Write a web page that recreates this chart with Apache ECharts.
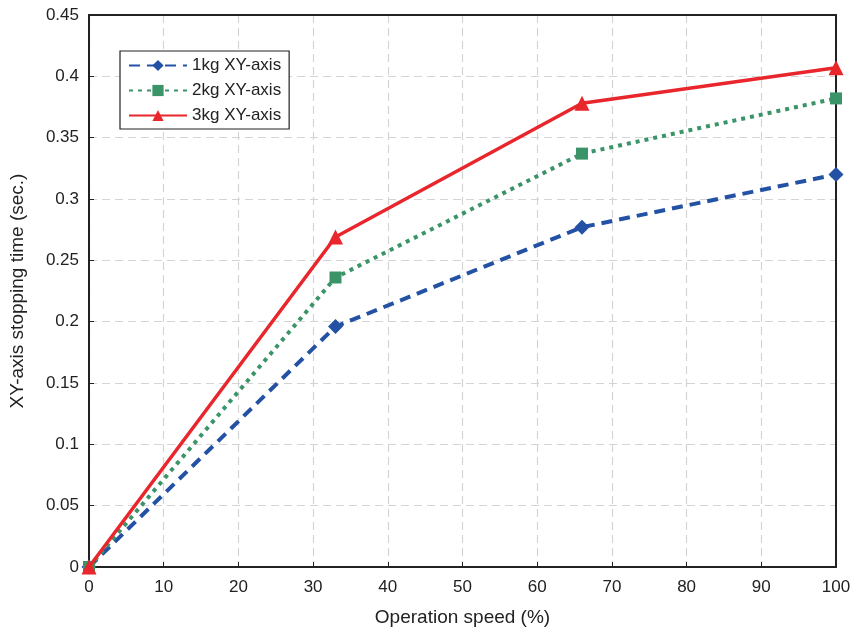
<!DOCTYPE html>
<html><head><meta charset="utf-8">
<script src="https://cdn.jsdelivr.net/npm/echarts@6/dist/echarts.min.js"></script>
<style>html,body{margin:0;padding:0;background:#fff}#c{width:862px;height:644px}</style>
</head><body><div id="c"></div>
<script>
const speeds = [0, 33, 66, 100];
const kg1 = [0, 0.196, 0.277, 0.320];
const kg2 = [0, 0.236, 0.337, 0.382];
const kg3 = [0, 0.269, 0.378, 0.407];
const names = ['1kg XY-axis', '2kg XY-axis', '3kg XY-axis'];

const pts = a => speeds.map((s, i) => [s, a[i]]);
const font = 'Liberation Sans, Arial, sans-serif';
const frame = { show: true, onZero: false, lineStyle: { color: '#222', width: 2 } };
const chart = echarts.init(document.getElementById('c'));
chart.setOption({
  animation: false,
  grid: { left: 88, right: 26, top: 15, bottom: 77 },
  legend: {
    left: 120, top: 51, orient: 'vertical', itemWidth: 58, itemHeight: 14, itemGap: 8,
    backgroundColor: '#fff', borderColor: '#222', borderWidth: 1.2, padding: [6, 8, 5, 8],
    textStyle: { fontFamily: font, fontSize: 17, color: '#222' },
    data: names
  },
  xAxis: [{
    type: 'value', min: 0, max: 100, interval: 10,
    name: 'Operation speed (%)', nameLocation: 'middle', nameGap: 41,
    nameTextStyle: { fontFamily: font, fontSize: 19, color: '#222' },
    axisLine: frame,
    axisTick: { inside: true, length: 5, lineStyle: { color: '#222' } },
    axisLabel: { fontFamily: font, fontSize: 17, color: '#222', margin: 12 },
    splitLine: { lineStyle: { color: '#d4d4d4', type: [8, 5], width: 1.2 } }
  }, {
    type: 'value', min: 0, max: 100, interval: 10, position: 'top',
    axisLine: frame, axisTick: { show: false }, axisLabel: { show: false }, splitLine: { show: false }
  }],
  yAxis: [{
    type: 'value', min: 0, max: 0.45, interval: 0.05,
    name: 'XY-axis stopping time (sec.)', nameLocation: 'middle', nameGap: 62,
    nameTextStyle: { fontFamily: font, fontSize: 19, color: '#222' },
    axisLine: frame,
    axisTick: { show: true, inside: true, length: 5, lineStyle: { color: '#222' } },
    axisLabel: { fontFamily: font, fontSize: 17, color: '#222', margin: 10, formatter: v => String(+v.toFixed(2)) },
    splitLine: { lineStyle: { color: '#d4d4d4', type: [8, 5], width: 1.2 } }
  }, {
    type: 'value', min: 0, max: 0.45, interval: 0.05, position: 'right',
    axisLine: frame, axisTick: { show: false }, axisLabel: { show: false }, splitLine: { show: false }
  }],
  series: [
    { name: names[0], type: 'line', data: pts(kg1), symbol: 'diamond', symbolSize: 15,
      lineStyle: { color: '#2352a5', width: 4, type: [11, 7] }, itemStyle: { color: '#2352a5' }, z: 3 },
    { name: names[1], type: 'line', data: pts(kg2), symbol: 'rect', symbolSize: 12,
      lineStyle: { color: '#3a9468', width: 4, type: [4, 5] }, itemStyle: { color: '#3a9468' }, z: 4 },
    { name: names[2], type: 'line', data: pts(kg3), symbol: 'triangle', symbolSize: 15,
      lineStyle: { color: '#e8262c', width: 3.5 }, itemStyle: { color: '#e8262c' }, z: 5 }
  ]
});
</script></body></html>
